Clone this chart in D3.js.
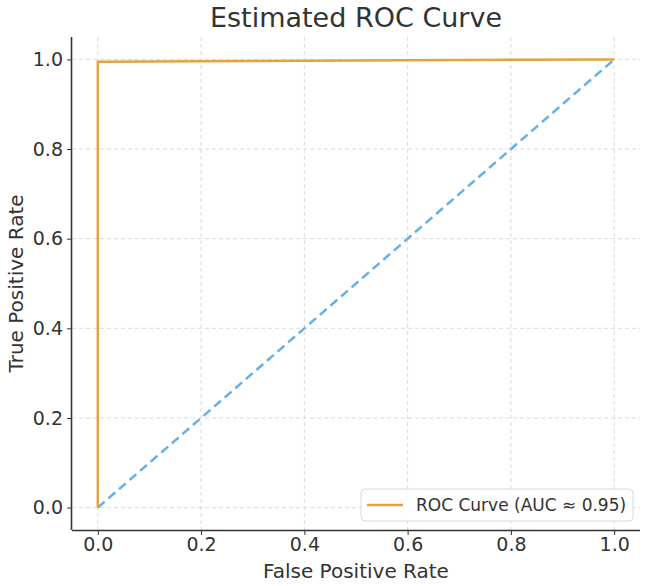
<!DOCTYPE html>
<html>
<head>
<meta charset="utf-8">
<script src="https://cdn.jsdelivr.net/npm/d3@7"></script>
<style>
  body { margin: 0; background: #fff; }
  text { font-family: "DejaVu Sans", sans-serif; fill: #333; }
</style>
</head>
<body>
<svg id="chart" width="645" height="586"></svg>
<script>
// ROC curve points
const fpr = [0, 0, 1];
const tpr = [0, 0.995, 1];
// chance diagonal
const diagX = [0, 1];
const diagY = [0, 1];
const ticks = [0, 0.2, 0.4, 0.6, 0.8, 1.0];
const legendLabel = 'ROC Curve (AUC \u2248 0.95)';

const svg = d3.select('#chart');
const plotLeft = 72, plotRight = 640, plotTop = 37, plotBottom = 530;

const x = d3.scaleLinear().domain([-0.05, 1.05]).range([plotLeft, plotRight]);
const y = d3.scaleLinear().domain([-0.05, 1.05]).range([plotBottom, plotTop]);

// grid
svg.append('g').selectAll('line')
  .data(ticks).enter().append('line')
  .attr('x1', d => x(d)).attr('x2', d => x(d))
  .attr('y1', plotTop).attr('y2', plotBottom)
  .attr('stroke', '#d0d0d0').attr('stroke-width', 0.8).attr('stroke-dasharray', '4,3');
svg.append('g').selectAll('line')
  .data(ticks).enter().append('line')
  .attr('y1', d => y(d)).attr('y2', d => y(d))
  .attr('x1', plotLeft).attr('x2', plotRight)
  .attr('stroke', '#d0d0d0').attr('stroke-width', 0.8).attr('stroke-dasharray', '4,3');

// axes
const xAxis = svg.append('g')
  .attr('transform', `translate(0,${plotBottom})`)
  .call(d3.axisBottom(x).tickValues(ticks).tickFormat(d3.format('.1f')).tickSize(5).tickPadding(3));
const yAxis = svg.append('g')
  .attr('transform', `translate(${plotLeft},0)`)
  .call(d3.axisLeft(y).tickValues(ticks).tickFormat(d3.format('.1f')).tickSize(5).tickPadding(4));
[xAxis, yAxis].forEach(a => {
  a.select('.domain').attr('stroke', '#333').attr('stroke-width', 1.6);
  a.selectAll('.tick line').attr('stroke', '#333').attr('stroke-width', 1);
  a.selectAll('.tick text').attr('font-size', 19).style('fill', '#333')
    .attr('font-family', '"DejaVu Sans", sans-serif');
});
// plain spines without end caps
xAxis.select('.domain').attr('d', `M${plotLeft},0.5H${plotRight}`);
yAxis.select('.domain').attr('d', `M-0.5,${plotBottom}V${plotTop}`);

const line = d3.line().x(d => x(d[0])).y(d => y(d[1]));

// diagonal
svg.append('path')
  .datum(d3.zip(diagX, diagY))
  .attr('d', line)
  .attr('fill', 'none')
  .attr('stroke', '#65b0e6')
  .attr('stroke-width', 2.5)
  .attr('stroke-dasharray', '9,5');

// ROC
svg.append('path')
  .datum(d3.zip(fpr, tpr))
  .attr('d', line)
  .attr('fill', 'none')
  .attr('stroke', '#e3a33f')
  .attr('stroke-width', 2.5);

// title & labels
svg.append('text')
  .attr('x', (plotLeft + plotRight) / 2).attr('y', 27)
  .attr('text-anchor', 'middle').attr('font-size', 27)
  .text('Estimated ROC Curve');
svg.append('text')
  .attr('x', (plotLeft + plotRight) / 2).attr('y', 578)
  .attr('text-anchor', 'middle').attr('font-size', 20)
  .text('False Positive Rate');
svg.append('text')
  .attr('transform', `translate(23,${(plotTop + plotBottom) / 2}) rotate(-90)`)
  .attr('text-anchor', 'middle').attr('font-size', 20)
  .text('True Positive Rate');

// legend
const lg = svg.append('g');
lg.append('rect')
  .attr('x', 361).attr('y', 489).attr('width', 272).attr('height', 32)
  .attr('rx', 4).attr('fill', 'rgba(255,255,255,0.85)')
  .attr('stroke', '#d8d8d8').attr('stroke-width', 1);
lg.append('line')
  .attr('x1', 367).attr('x2', 403).attr('y1', 505).attr('y2', 505)
  .attr('stroke', '#e3a33f').attr('stroke-width', 2.5);
lg.append('text')
  .attr('x', 416).attr('y', 511).attr('font-size', 17)
  .text(legendLabel);
</script>
</body>
</html>
